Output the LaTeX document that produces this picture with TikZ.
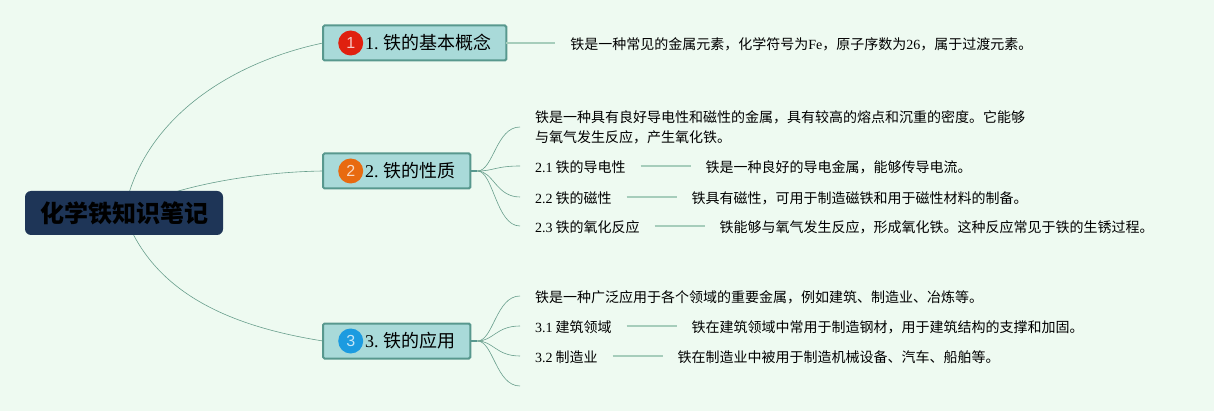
\documentclass[tikz,border=0pt]{standalone}
\usepackage{fontspec}
\setmainfont{Noto Sans CJK SC}
\newfontfamily\latfont{Liberation Serif}
\newfontfamily\digitfont{Liberation Sans}
\newcommand{\lat}[1]{{\latfont #1}}
\usetikzlibrary{positioning, backgrounds}
\definecolor{pagecolor}{RGB}{238,250,241}
\definecolor{rootcolor}{RGB}{30,53,87}
\definecolor{topiccolor}{RGB}{169,218,217}
\definecolor{bordercolor}{RGB}{88,152,142}
\definecolor{curvecolor}{RGB}{104,158,140}
\definecolor{stemcolor}{RGB}{166,205,187}
\definecolor{badgeone}{RGB}{224,32,15}
\definecolor{badgetwo}{RGB}{232,106,16}
\definecolor{badgethree}{RGB}{28,155,224}

\begin{document}
\begin{tikzpicture}[
    x=1pt, y=-1pt,
    root/.style={rectangle, rounded corners=6pt, fill=rootcolor, minimum width=198pt, minimum height=44pt, inner sep=0pt, outer sep=0pt, text=black, font=\fontsize{24}{28}\selectfont\bfseries},
    topic/.style={rectangle, rounded corners=1.5pt, draw=bordercolor, line width=2pt, fill=topiccolor, minimum height=35pt, inner xsep=14.5pt, inner ysep=0pt, outer sep=0pt, anchor=west, font=\fontsize{18}{22}\selectfont},
    badge/.style={circle, minimum size=25pt, inner sep=0pt, anchor=west, text=white, text opacity=0.75, font=\digitfont\fontsize{16}{18}\selectfont},
    leaftext/.style={rectangle, inner xsep=15pt, inner ysep=0pt, outer sep=0pt, anchor=west, align=left, font=\fontsize{14}{20}\selectfont},
    leaf/.style={leaftext, text height=14pt, text depth=1.5pt},
    branch/.style={curvecolor, line width=0.6pt},
    stem/.style={stemcolor, line width=1.5pt},
    stub/.style={bordercolor, line width=1.6pt},
    node distance=50pt
]
    \useasboundingbox (0,0) rectangle (1214,411);

    % Central topic
    \node[root] (chem) at (124,213) {化学铁知识笔记};

    % Topic boxes
    \node[topic] (basics) at (323,43) {\hspace{27.5pt}\lat{1.} 铁的基本概念};
    \node[topic] (props) at (323,171) {\hspace{27.5pt}\lat{2.} 铁的性质};
    \node[topic] (uses) at (323,341) {\hspace{27.5pt}\lat{3.} 铁的应用};

    \node[badge, fill=badgeone, right=15pt of basics.west] (badgea) {1};
    \node[badge, fill=badgetwo, right=15pt of props.west] (badgeb) {2};
    \node[badge, fill=badgethree, right=15pt of uses.west] (badgec) {3};

    % Basics
    \node[leaf, right=49pt of basics] (basicstext) {铁是一种常见的金属元素，化学符号为\lat{Fe}，原子序数为\lat{26}，属于过渡元素。};

    % Properties
    \node[leaftext] (propsintro) at (520,127) {铁是一种具有良好导电性和磁性的金属，具有较高的熔点和沉重的密度。它能够\\与氧气发生反应，产生氧化铁。};
    \node[leaf] (conduct) at (520,166) {\lat{2.1} 铁的导电性};
    \node[leaf, right=of conduct] (conducttext) {铁是一种良好的导电金属，能够传导电流。};
    \node[leaf] (magnet) at (520,197) {\lat{2.2} 铁的磁性};
    \node[leaf, right=of magnet] (magnettext) {铁具有磁性，可用于制造磁铁和用于磁性材料的制备。};
    \node[leaf] (oxide) at (520,226) {\lat{2.3} 铁的氧化反应};
    \node[leaf, right=of oxide] (oxidetext) {铁能够与氧气发生反应，形成氧化铁。这种反应常见于铁的生锈过程。};

    % Uses
    \node[leaf] (usesintro) at (520,296) {铁是一种广泛应用于各个领域的重要金属，例如建筑、制造业、冶炼等。};
    \node[leaf] (build) at (520,326) {\lat{3.1} 建筑领域};
    \node[leaf, right=of build] (buildtext) {铁在建筑领域中常用于制造钢材，用于建筑结构的支撑和加固。};
    \node[leaf] (make) at (520,356) {\lat{3.2} 制造业};
    \node[leaf, right=of make] (maketext) {铁在制造业中被用于制造机械设备、汽车、船舶等。};
    \coordinate (blank) at (520,386);

    \coordinate[right=7pt of props.east] (propsstub);
    \coordinate[right=7pt of uses.east] (usesstub);

    % Main curves, under the central topic
    \begin{scope}[on background layer]
        \fill[pagecolor] (0,0) rectangle (1214,411);
        \draw[branch] (chem.center) .. controls (142,118) and (232,62) .. (basics.west);
        \draw[branch] (chem.center) .. controls (165,188) and (250,172) .. (props.west);
        \draw[branch] (chem.center) .. controls (152,292) and (228,326) .. (uses.west);
    \end{scope}

    % Straight stems
    \draw[stem] (basics.east) -- (basicstext.west);
    \draw[stem] (conduct.east) -- (conducttext.west);
    \draw[stem] (magnet.east) -- (magnettext.west);
    \draw[stem] (oxide.east) -- (oxidetext.west);
    \draw[stem] (build.east) -- (buildtext.west);
    \draw[stem] (make.east) -- (maketext.west);

    % Properties branches
    \draw[stub] (props.east) -- (propsstub);
    \draw[branch] (propsstub) .. controls +(16,0) and +(-24,0) .. (propsintro.west);
    \draw[branch] (propsstub) .. controls +(16,0) and +(-24,0) .. (conduct.west);
    \draw[branch] (propsstub) .. controls +(16,0) and +(-24,0) .. (magnet.west);
    \draw[branch] (propsstub) .. controls +(16,0) and +(-24,0) .. (oxide.west);

    % Uses branches
    \draw[stub] (uses.east) -- (usesstub);
    \draw[branch] (usesstub) .. controls +(16,0) and +(-24,0) .. (usesintro.west);
    \draw[branch] (usesstub) .. controls +(16,0) and +(-24,0) .. (build.west);
    \draw[branch] (usesstub) .. controls +(16,0) and +(-24,0) .. (make.west);
    \draw[branch] (usesstub) .. controls +(16,0) and +(-24,0) .. (blank);

\end{tikzpicture}
\end{document}
